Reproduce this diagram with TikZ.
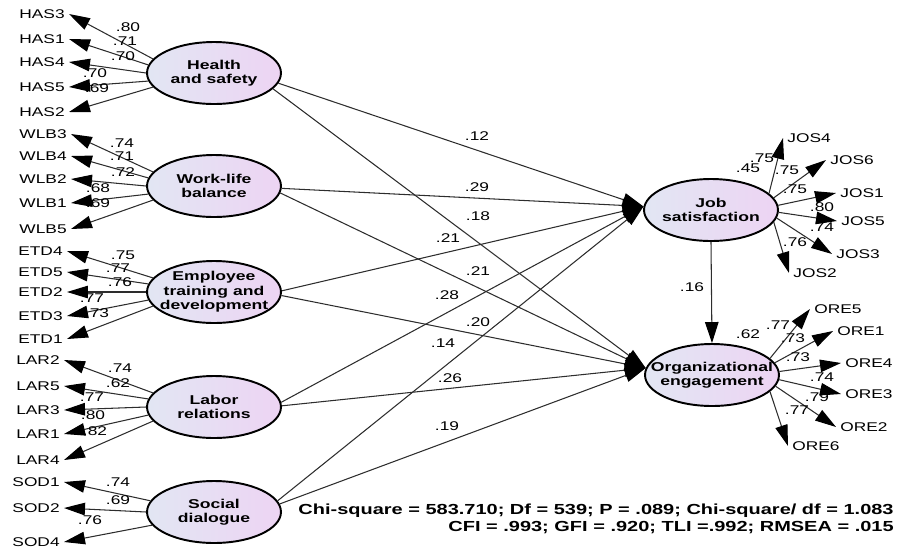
\documentclass[tikz,border=0pt]{standalone}
\usepackage{fontspec}
\setmainfont{Liberation Sans}[FakeStretch=1.37]
\usetikzlibrary{arrows.meta, shapes.geometric, positioning}
\definecolor{latleft}{RGB}{226,230,243}
\definecolor{latright}{RGB}{237,212,243}
\definecolor{pathline}{RGB}{45,45,45}

\tikzset{
  latent/.style={ellipse, draw, line width=1.1pt, minimum width=2.68cm, minimum height=1.24cm, inner sep=0pt, left color=latleft, right color=latright},
  lattext/.style={align=center, inner sep=0pt, font=\fontsize{7.3}{8.3}\selectfont\bfseries},
  obs/.style={inner sep=0.08cm, font=\fontsize{7.2}{8.6}\selectfont},
  coef/.style={inner sep=0pt, font=\fontsize{7.2}{8.6}\selectfont},
  load/.style={draw=pathline, line width=0.6pt, -{Triangle[length=0.42cm, width=0.25cm, black]}},
  struct/.style={draw=pathline, line width=0.6pt, -{Triangle[length=0.42cm, width=0.27cm, black]}},
}

\begin{document}
\begin{tikzpicture}[x=0.02cm, y=-0.02cm]
    \useasboundingbox (0,0) rectangle (897,552);

    % Latent variables
    \node[latent] (hs) at (214,73) {};
    \node[lattext] (hs-t) at (hs) {Health\\and safety};
    \node[latent] (wlb) at (214,186) {};
    \node[lattext] (wlb-t) at (wlb) {Work-life\\balance};
    \node[latent] (etd) at (214,292) {};
    \node[lattext] (etd-t) at (etd) {Employee\\training and\\development};
    \node[latent] (lar) at (214,407) {};
    \node[lattext] (lar-t) at (lar) {Labor\\relations};
    \node[latent] (sod) at (214,512) {};
    \node[lattext] (sod-t) at (sod) {Social\\dialogue};
    \node[latent] (js) at (711,210) {};
    \node[lattext] (js-t) at (js) {Job\\satisfaction};
    \node[latent] (oe) at (712,375) {};
    \node[lattext] (oe-t) at (oe) {Organizational\\engagement};

    % Health and safety indicators
    \foreach \name/\yy/\ang/\val/\vx/\vy in {HAS3/14/167/.80/128/27, HAS1/39/173/.71/125/41, HAS4/62/180/.70/123/56, HAS5/87/187/.70/95/73, HAS2/112/193/.69/97/88} {
        \node[obs, anchor=east] (\name) at (69,\yy) {\name};
        \draw[load] (hs.\ang) -- (\name.east);
        \node[coef] (c\name) at (\vx,\vy) {\val};
    }

    % Work-life balance indicators
    \foreach \name/\yy/\ang/\val/\vx/\vy in {WLB3/134/167/.74/122/143, WLB4/156/173/.71/122/156, WLB2/179/180/.72/123/172, WLB1/203/187/.68/98/188, WLB5/229/193/.69/98/203} {
        \node[obs, anchor=east] (\name) at (71,\yy) {\name};
        \draw[load] (wlb.\ang) -- (\name.east);
        \node[coef] (c\name) at (\vx,\vy) {\val};
    }

    % Employee training and development indicators
    \foreach \name/\yy/\ang/\val/\vx/\vy in {ETD4/251/167/.75/123/255, ETD5/272/173/.77/118/268, ETD2/292/180/.76/120/282, ETD3/316/187/.77/92/298, ETD1/339/193/.73/97/313} {
        \node[obs, anchor=east] (\name) at (67,\yy) {\name};
        \draw[load] (etd.\ang) -- (\name.east);
        \node[coef] (c\name) at (\vx,\vy) {\val};
    }

    % Labor relations indicators
    \foreach \name/\yy/\ang/\val/\vx/\vy in {LAR2/360/167/.74/120/368, LAR5/386/173/.62/118/383, LAR3/410/180/.77/92/397, LAR1/434/187/.80/93/415, LAR4/460/193/.82/95/431} {
        \node[obs, anchor=east] (\name) at (64,\yy) {\name};
        \draw[load] (lar.\ang) -- (\name.east);
        \node[coef] (c\name) at (\vx,\vy) {\val};
    }

    % Social dialogue indicators
    \foreach \name/\yy/\ang/\val/\vx/\vy in {SOD1/482/170/.74/118/482, SOD2/508/180/.69/118/500, SOD4/542/192/.76/90/520} {
        \node[obs, anchor=east] (\name) at (64,\yy) {\name};
        \draw[load] (sod.\ang) -- (\name.east);
        \node[coef] (c\name) at (\vx,\vy) {\val};
    }

    % Job satisfaction indicators
    \foreach \name/\xx/\yy/\ang/\val/\vx/\vy in {JOS4/783/138/16/.75/762/158, JOS6/826/160/11/.75/787/170, JOS1/836/193/4/.75/795/189, JOS5/837/221/-2/.80/822/207, JOS3/832/254/-7/.74/822/227, JOS2/789/273/-11/.76/795/242} {
        \node[obs, anchor=west] (\name) at (\xx,\yy) {\name};
        \draw[load] (js.\ang) -- (\name.west);
        \node[coef] (c\name) at (\vx,\vy) {\val};
    }
    \node[coef] (r2js) at (748,168) {.45};

    % Organizational engagement indicators
    \foreach \name/\xx/\yy/\ang/\val/\vx/\vy in {ORE5/810/309/16/.77/778/325, ORE1/833/331/11/.73/793/338, ORE4/841/363/3/.73/798/357, ORE3/841/394/-4/.74/822/377, ORE2/836/427/-10/.79/817/397, ORE6/788/446/-16/.77/797/410} {
        \node[obs, anchor=west] (\name) at (\xx,\yy) {\name};
        \draw[load] (oe.\ang) -- (\name.west);
        \node[coef] (c\name) at (\vx,\vy) {\val};
    }
    \node[coef] (r2oe) at (748,334) {.62};

    % Structural paths
    \foreach \src/\a/\dst/\b in {hs/-9/js/177, hs/-15/oe/174, wlb/-2/js/177, wlb/-6/oe/174, etd/1/js/177, etd/-3/oe/174, lar/4/js/177, lar/1/oe/174, sod/10/js/177, sod/7/oe/174} {
        \draw[struct] (\src.\a) -- (\dst.\b);
    }
    \draw[struct] (js.south) -- (oe.north);

    % Path coefficients
    \foreach \nm/\val/\px/\py in {hsjs/.12/477/136, wlbjs/.29/477/187, hsoe/.18/478/216, etdjs/.21/448/238, wlboe/.21/478/271, larjs/.28/447/295, etdoe/.20/478/322, sodjs/.14/443/343, laroe/.26/450/378, sodoe/.19/447/426, jsoe/.16/692/287} {
        \node[coef] (\nm) at (\px,\py) {\val};
    }

    % Fit indices
    \node[anchor=east, align=right, inner sep=0pt, font=\fontsize{8.3}{10}\selectfont\bfseries] (fit) at (894,519) {Chi-square = 583.710; Df = 539; P = .089; Chi-square/ df = 1.083\\CFI = .993; GFI = .920; TLI =.992; RMSEA = .015};

\end{tikzpicture}
\end{document}
